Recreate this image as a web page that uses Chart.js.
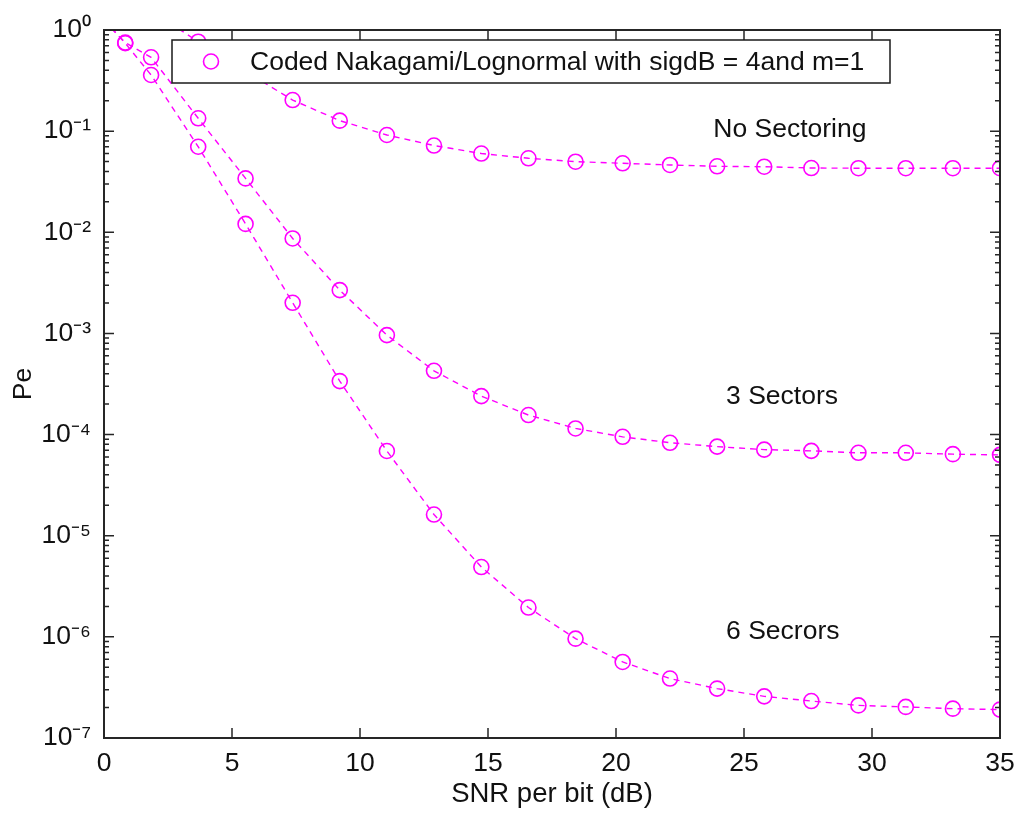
<!DOCTYPE html>
<html>
<head>
<meta charset="utf-8">
<script src="https://cdn.jsdelivr.net/npm/chart.js@4.4.1/dist/chart.umd.min.js"></script>
<style>
  html, body { margin: 0; padding: 0; background: #ffffff; }
  #wrap { width: 1018px; height: 814px; }
</style>
</head>
<body>
<div id="wrap"><canvas id="c" width="1018" height="814"></canvas></div>
<script>
// ---- data ----
const snr = [0, 0.83, 1.84, 3.68, 5.53, 7.37, 9.21, 11.05, 12.89, 14.74, 16.58, 18.42, 20.26, 22.11, 23.95, 25.79, 27.63, 29.47, 31.32, 33.16, 35.0];
const peNoSectoring = [null, null, 1.55, 0.766, 0.39, 0.203, 0.127, 0.0916, 0.0721, 0.0601, 0.0539, 0.0499, 0.0481, 0.0463, 0.0449, 0.0445, 0.0432, 0.0430, 0.0430, 0.0430, 0.0430];
const pe3Sectors = [1.25, 0.75, 0.537, 0.134, 0.0341, 0.00869, 0.00268, 0.000962, 0.000427, 0.000240, 0.000156, 0.000115, 0.000095, 0.000083, 0.000076, 0.000071, 0.000069, 0.000066, 0.000066, 0.000064, 0.000063];
const pe6Sectors = [1.25, 0.74, 0.359, 0.0701, 0.0121, 0.00201, 0.000338, 0.0000688, 0.0000162, 0.0000049, 0.00000195, 0.00000096, 0.000000565, 0.000000387, 0.000000308, 0.000000258, 0.000000232, 0.00000021, 0.000000203, 0.000000195, 0.000000191];
const xTickValues = [0, 5, 10, 15, 20, 25, 30, 35];
const yTickExponents = [0, -1, -2, -3, -4, -5, -6, -7];
const legendText = 'Coded Nakagami/Lognormal with sigdB = 4and m=1';
const curveNames = ['No Sectoring', '3 Sectors', '6 Secrors'];
const curveNameX = [23.8, 24.3, 24.3];
const curveNameY = [0.103, 2.35e-4, 1.12e-6];
const xTitle = 'SNR per bit (dB)';
const yTitle = 'Pe';

// ---- styling ----
const MAG = '#ff00ff';
const FONT = "'Liberation Sans', Arial, Helvetica, sans-serif";
const FS = 26.5;
const SUP = {'-':'\u207B','0':'\u2070','1':'\u00B9','2':'\u00B2','3':'\u00B3','4':'\u2074','5':'\u2075','6':'\u2076','7':'\u2077','8':'\u2078','9':'\u2079'};

function toPoints(arr) {
  return snr.map((x, i) => ({x: x, y: arr[i]})).filter(p => p.y !== null);
}
function ds(label, arr) {
  return {
    label: label,
    data: toPoints(arr),
    borderColor: MAG,
    borderWidth: 1.4,
    borderDash: [6, 5],
    backgroundColor: 'rgba(0,0,0,0)',
    pointStyle: 'circle',
    pointRadius: 7.5,
    pointHoverRadius: 7.5,
    pointBorderWidth: 1.6,
    pointBorderColor: MAG,
    pointBackgroundColor: 'rgba(0,0,0,0)',
    tension: 0,
    fill: false
  };
}

const matlabAxes = {
  id: 'matlabAxes',
  afterDatasetsDraw(chart) {
    const ctx = chart.ctx;
    const a = chart.chartArea;
    const xs = chart.scales.x, ys = chart.scales.y;
    ctx.save();
    // curve name annotations
    ctx.fillStyle = '#111111';
    ctx.font = FS + 'px ' + FONT;
    ctx.textAlign = 'left';
    ctx.textBaseline = 'middle';
    curveNames.forEach((t, i) => {
      ctx.fillText(t, xs.getPixelForValue(curveNameX[i]), ys.getPixelForValue(curveNameY[i]));
    });
    // ticks (inward, both sides)
    ctx.strokeStyle = '#262626';
    ctx.lineWidth = 1.5;
    ctx.beginPath();
    xs.ticks.forEach(t => {
      const px = Math.round(xs.getPixelForValue(t.value));
      ctx.moveTo(px, a.bottom); ctx.lineTo(px, a.bottom - 10);
      ctx.moveTo(px, a.top); ctx.lineTo(px, a.top + 10);
    });
    yTickExponents.forEach(e => {
      const v = Math.pow(10, e);
      const py = ys.getPixelForValue(v);
      ctx.moveTo(a.left, py); ctx.lineTo(a.left + 10, py);
      ctx.moveTo(a.right, py); ctx.lineTo(a.right - 10, py);
      if (e < 0) {
        for (let m = 2; m <= 9; m++) {
          const pm = ys.getPixelForValue(m * v);
          ctx.moveTo(a.left, pm); ctx.lineTo(a.left + 5, pm);
          ctx.moveTo(a.right, pm); ctx.lineTo(a.right - 5, pm);
        }
      }
    });
    ctx.stroke();
    // axes box
    ctx.lineWidth = 2;
    ctx.strokeRect(a.left, a.top, a.right - a.left, a.bottom - a.top);
    // legend box
    const lx = 172, ly = 40, lw = 718, lh = 43;
    ctx.fillStyle = '#ffffff';
    ctx.fillRect(lx, ly, lw, lh);
    ctx.lineWidth = 1.5;
    ctx.strokeStyle = '#1a1a1a';
    ctx.strokeRect(lx, ly, lw, lh);
    ctx.beginPath();
    ctx.strokeStyle = MAG;
    ctx.lineWidth = 1.6;
    ctx.arc(211, ly + lh / 2, 7.5, 0, Math.PI * 2);
    ctx.stroke();
    ctx.fillStyle = '#111111';
    ctx.font = FS + 'px ' + FONT;
    ctx.textAlign = 'left';
    ctx.textBaseline = 'middle';
    ctx.fillText(legendText, 250, ly + lh / 2 + 1);
    ctx.restore();
  }
};

new Chart(document.getElementById('c'), {
  type: 'line',
  data: {
    datasets: [
      ds(curveNames[0], peNoSectoring),
      ds(curveNames[1], pe3Sectors),
      ds(curveNames[2], pe6Sectors)
    ]
  },
  options: {
    responsive: false,
    animation: false,
    devicePixelRatio: 1,
    layout: { padding: { top: 30, right: 18, bottom: 0, left: 0 } },
    plugins: { legend: { display: false }, tooltip: { enabled: false } },
    scales: {
      x: {
        type: 'linear',
        min: 0, max: 35,
        afterFit(s) { s.height = 76; s.paddingLeft = 0; s.paddingRight = 0; },
        afterBuildTicks(s) { s.ticks = xTickValues.map(v => ({value: v})); },
        grid: { display: false, drawTicks: false },
        border: { display: false },
        ticks: { color: '#111111', font: { family: FONT, size: FS }, padding: 10, maxRotation: 0, autoSkip: false },
        title: { display: true, text: xTitle, color: '#111111', font: { family: FONT, size: 27.5 }, padding: { top: 0, bottom: 3 } }
      },
      y: {
        type: 'logarithmic',
        min: 1e-7, max: 1,
        afterFit(s) { s.width = 104; s.paddingTop = 0; s.paddingBottom = 0; },
        afterBuildTicks(s) { s.ticks = yTickExponents.map(e => ({value: Math.pow(10, e)})); },
        grid: { display: false, drawTicks: false },
        border: { display: false },
        ticks: {
          color: '#111111', font: { family: FONT, size: FS }, padding: 13, autoSkip: false,
          callback(v) {
            const e = Math.round(Math.log10(v));
            return '10' + String(e).split('').map(c => SUP[c]).join('');
          }
        },
        title: { display: true, text: yTitle, color: '#111111', font: { family: FONT, size: FS }, padding: { top: 8, bottom: 0 } }
      }
    }
  },
  plugins: [matlabAxes]
});
</script>
</body>
</html>
